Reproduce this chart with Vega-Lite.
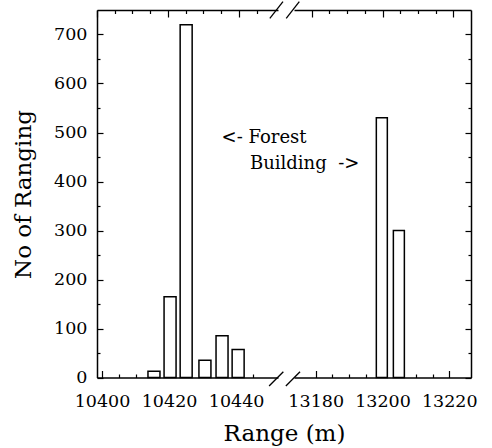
{
  "$schema": "https://vega.github.io/schema/vega-lite/v6.json",
  "width": 374,
  "height": 367.5,
  "autosize": {"type": "none"},
  "padding": {"left": 97, "top": 10, "right": 21, "bottom": 70.5},
  "background": "white",
  "config": {
    "view": {"stroke": null},
    "axis": {
      "grid": false,
      "domainColor": "black",
      "domainWidth": 1.5,
      "tickColor": "black",
      "tickWidth": 1.2,
      "labelColor": "black",
      "titleColor": "black",
      "labelFont": "DejaVu Serif",
      "titleFont": "DejaVu Serif",
      "labelFontSize": 17.5,
      "titleFontSize": 23,
      "titleFontWeight": "normal",
      "labelOverlap": false,
      "labelFlush": false
    },
    "text": {"font": "DejaVu Serif", "fontSize": 18, "color": "black"}
  },
  "data": {
    "values": [
      {"Range": 10415.5, "Count": 13},
      {"Range": 10420.3, "Count": 165},
      {"Range": 10425.1, "Count": 720},
      {"Range": 10430.7, "Count": 35},
      {"Range": 10435.8, "Count": 85},
      {"Range": 10440.6, "Count": 57},
      {"Range": 13199.8, "Count": 530},
      {"Range": 13204.9, "Count": 300}
    ]
  },
  "resolve": {
    "scale": {"x": "independent"},
    "axis": {"x": "independent", "y": "independent"}
  },
  "layer": [
    {
      "transform": [{"filter": "datum.Range < 12000"}],
      "mark": {"type": "bar", "size": 12, "fill": "white", "stroke": "black", "strokeWidth": 1.5},
      "encoding": {
        "x": {
          "field": "Range", "type": "quantitative",
          "scale": {"domain": [10400, 10451], "range": [0, 181], "nice": false, "zero": false},
          "axis": {
            "orient": "bottom",
            "values": [10400, 10405, 10410, 10415, 10420, 10425, 10430, 10435, 10440, 10445],
            "format": "d",
            "labelExpr": "datum.value % 20 === 0 ? datum.label : ''",
            "tickSize": {"expr": "datum.value % 20 === 0 ? -7 : -3.5"},
            "labelPadding": 36,
            "labelBaseline": "alphabetic",
            "title": "Range (m)",
            "titleX": 187,
            "titleY": 62.5,
            "titleBaseline": "alphabetic",
            "titleAlign": "center"
          }
        },
        "y": {
          "field": "Count", "type": "quantitative",
          "scale": {"domain": [0, 750], "nice": false},
          "axis": {
            "orient": "left",
            "values": [0, 50, 100, 150, 200, 250, 300, 350, 400, 450, 500, 550, 600, 650, 700],
            "labelExpr": "datum.value % 100 === 0 ? datum.label : ''",
            "tickSize": {"expr": "datum.value % 100 === 0 ? -6 : -3"},
            "labelPadding": 16,
            "title": "No of Ranging",
            "titleX": -67,
            "titleY": 184,
            "titleAngle": 270,
            "titleBaseline": "alphabetic",
            "titleAlign": "center"
          }
        }
      }
    },
    {
      "transform": [{"filter": "datum.Range < 12000"}],
      "mark": {"type": "point", "opacity": 0},
      "encoding": {
        "x": {
          "field": "Range", "type": "quantitative",
          "scale": {"domain": [10400, 10451], "range": [0, 181], "nice": false, "zero": false},
          "axis": {
            "orient": "top",
            "values": [10400, 10405, 10410, 10415, 10420, 10425, 10430, 10435, 10440, 10445],
            "labels": false,
            "tickSize": {"expr": "datum.value % 20 === 0 ? -7 : -3.5"},
            "title": null
          }
        }
      }
    },
    {
      "transform": [{"filter": "datum.Range > 12000"}],
      "mark": {"type": "bar", "size": 11, "fill": "white", "stroke": "black", "strokeWidth": 1.5},
      "encoding": {
        "x": {
          "field": "Range", "type": "quantitative",
          "scale": {"domain": [13175, 13225], "range": [197, 374], "nice": false, "zero": false},
          "axis": {
            "orient": "bottom",
            "values": [13180, 13185, 13190, 13195, 13200, 13205, 13210, 13215, 13220],
            "format": "d",
            "labelExpr": "datum.value % 20 === 0 ? datum.label : ''",
            "tickSize": {"expr": "datum.value % 20 === 0 ? -7 : -3.5"},
            "labelPadding": 36,
            "labelBaseline": "alphabetic",
            "title": null
          }
        },
        "y": {
          "field": "Count", "type": "quantitative",
          "scale": {"domain": [0, 750], "nice": false},
          "axis": {
            "orient": "right",
            "values": [0, 50, 100, 150, 200, 250, 300, 350, 400, 450, 500, 550, 600, 650, 700],
            "labels": false,
            "tickSize": {"expr": "datum.value % 100 === 0 ? -6 : -3"},
            "title": null
          }
        }
      }
    },
    {
      "transform": [{"filter": "datum.Range > 12000"}],
      "mark": {"type": "point", "opacity": 0},
      "encoding": {
        "x": {
          "field": "Range", "type": "quantitative",
          "scale": {"domain": [13175, 13225], "range": [197, 374], "nice": false, "zero": false},
          "axis": {
            "orient": "top",
            "values": [13180, 13185, 13190, 13195, 13200, 13205, 13210, 13215, 13220],
            "labels": false,
            "tickSize": {"expr": "datum.value % 20 === 0 ? -7 : -3.5"},
            "title": null
          }
        }
      }
    },
    {
      "data": {"values": [{}]},
      "mark": {"type": "text", "text": "<- Forest", "align": "left", "baseline": "alphabetic"},
      "encoding": {
        "x": {"datum": 10435.1, "type": "quantitative", "scale": {"domain": [10400, 10451], "range": [0, 181], "nice": false, "zero": false}, "axis": null},
        "y": {"datum": 478, "type": "quantitative", "scale": {"domain": [0, 750], "nice": false}, "axis": null}
      }
    },
    {
      "data": {"values": [{}]},
      "mark": {"type": "text", "text": "Building\u00a0\u00a0->", "align": "left", "baseline": "alphabetic"},
      "encoding": {
        "x": {"datum": 10443.1, "type": "quantitative", "scale": {"domain": [10400, 10451], "range": [0, 181], "nice": false, "zero": false}, "axis": null},
        "y": {"datum": 425, "type": "quantitative", "scale": {"domain": [0, 750], "nice": false}, "axis": null}
      }
    },
    {
      "data": {"values": [{}]},
      "mark": {"type": "rule", "stroke": "black", "strokeWidth": 1.3},
      "encoding": {
        "x": {"datum": 10448.5, "type": "quantitative", "scale": {"domain": [10400, 10451], "range": [0, 181], "nice": false, "zero": false}, "axis": null},
        "x2": {"datum": 10452.5},
        "y": {"datum": -17.3, "type": "quantitative", "scale": {"domain": [0, 750], "nice": false}, "axis": null},
        "y2": {"datum": 11.9}
      }
    },
    {
      "data": {"values": [{}]},
      "mark": {"type": "rule", "stroke": "black", "strokeWidth": 1.3},
      "encoding": {
        "x": {"datum": 10448.7, "type": "quantitative", "scale": {"domain": [10400, 10451], "range": [0, 181], "nice": false, "zero": false}, "axis": null},
        "x2": {"datum": 10452.4},
        "y": {"datum": 733, "type": "quantitative", "scale": {"domain": [0, 750], "nice": false}, "axis": null},
        "y2": {"datum": 767}
      }
    },
    {
      "data": {"values": [{}]},
      "mark": {"type": "rule", "stroke": "black", "strokeWidth": 1.3},
      "encoding": {
        "x": {"datum": 13172.7, "type": "quantitative", "scale": {"domain": [13175, 13225], "range": [197, 374], "nice": false, "zero": false}, "axis": null},
        "x2": {"datum": 13176.7},
        "y": {"datum": -17.3, "type": "quantitative", "scale": {"domain": [0, 750], "nice": false}, "axis": null},
        "y2": {"datum": 11.9}
      }
    },
    {
      "data": {"values": [{}]},
      "mark": {"type": "rule", "stroke": "black", "strokeWidth": 1.3},
      "encoding": {
        "x": {"datum": 13172.8, "type": "quantitative", "scale": {"domain": [13175, 13225], "range": [197, 374], "nice": false, "zero": false}, "axis": null},
        "x2": {"datum": 13176.5},
        "y": {"datum": 733, "type": "quantitative", "scale": {"domain": [0, 750], "nice": false}, "axis": null},
        "y2": {"datum": 767}
      }
    }
  ]
}
